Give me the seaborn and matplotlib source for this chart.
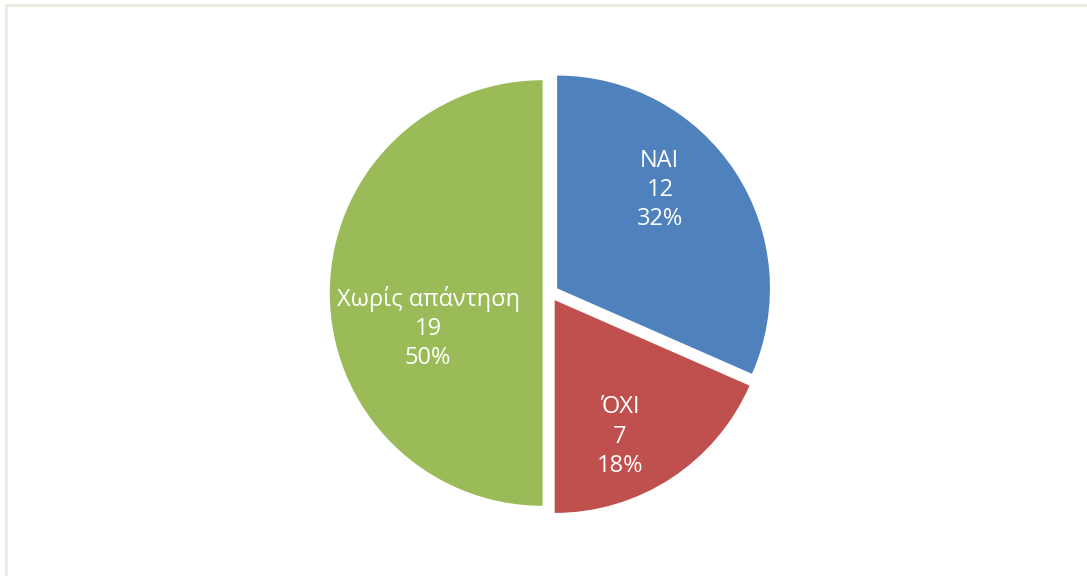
import matplotlib
matplotlib.use("Agg")
import matplotlib.pyplot as plt
from matplotlib.lines import Line2D
import seaborn as sns

# data
categories = ["NAI", "ΌΧΙ", "Χωρίς απάντηση"]
counts = [12, 7, 19]
percent_labels = ["32%", "18%", "50%"]

colors = ["#4F81BD", "#C0504D", "#9BBB59"]

sns.set_theme(style="white")
plt.rcParams["font.family"] = ["Open Sans", "DejaVu Sans"]

fig = plt.figure(figsize=(10.87, 5.76), dpi=100)
fig.patch.set_facecolor("white")

# chart border (only top and left edges visible in the crop)
border = "#EEECE1"
fig.add_artist(Line2D([0.0055, 1.0], [0.9915, 0.9915], transform=fig.transFigure,
                      color=border, linewidth=2.2))
fig.add_artist(Line2D([0.0055, 0.0055], [0.0, 0.9915], transform=fig.transFigure,
                      color=border, linewidth=2.2))

ax = fig.add_axes([0.2613, 0.0295, 0.4894, 0.9236])
wedges, _ = ax.pie(counts, colors=colors, startangle=90, counterclock=False,
                   explode=[0.04, 0.04, 0.035], radius=1.0,
                   wedgeprops=dict(linewidth=0))

# label placement inside each slice (radius units)
label_pos = [(0.516, 0.484), (0.329, -0.676), (-0.573, -0.164)]
for cat, n, pct, (x, y) in zip(categories, counts, percent_labels, label_pos):
    ax.text(x, y, f"{cat}\n{n}\n{pct}", ha="center", va="center",
            color="white", fontsize=17, linespacing=1.3)

fig.savefig("out.png", dpi=100, facecolor="white")
